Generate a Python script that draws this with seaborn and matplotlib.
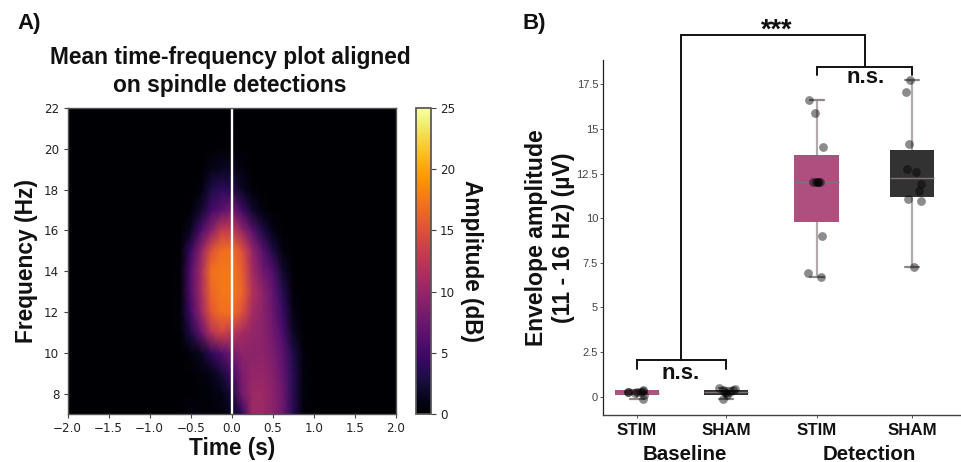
import numpy as np
import pandas as pd
import seaborn as sns
import matplotlib
matplotlib.use("Agg")
import matplotlib.pyplot as plt

# ---------- panel A data (dB) ----------
times = [-2.0, -0.75, -0.625, -0.5, -0.375, -0.25, -0.125, 0.0, 0.125, 0.25, 0.375, 0.5, 0.625, 0.75, 0.875, 1.0, 2.0]
freqs = [7, 8, 9, 10, 11, 12, 13, 14, 15, 16, 17, 18, 19, 20, 21, 22]
amp_7 = [0, 0, .3, .8, .5, .4, .4, 1.0, 4.0, 10.5, 10.5, 9.5, 7.5, 3.5, .4, 0, 0]
amp_8 = [0, 0, 0, .1, .2, .5, 1, 2.5, 8, 10.5, 10.5, 9.5, 7.5, 3.5, .5, 0, 0]
amp_9 = [0, 0, 0, .1, .5, 1, 2.5, 5, 8.5, 10, 10, 9, 7, 3.5, .5, 0, 0]
amp_10 = [0, 0, 0, .5, 1.5, 4, 6, 8, 9.5, 9.5, 9.5, 8.5, 6.5, 3, .4, 0, 0]
amp_11 = [0, 0, .3, 3, 7, 12, 14, 12.5, 11, 10, 9.5, 8, 5.5, 1.5, .1, 0, 0]
amp_12 = [0, 0, .5, 5, 10, 15.5, 17, 17, 15, 11, 9.5, 7.5, 4.5, .8, 0, 0, 0]
amp_13 = [0, 0, .4, 6, 11, 16.5, 17.5, 17.5, 16.5, 12, 9.5, 7, 3.5, .4, 0, 0, 0]
amp_14 = [0, 0, .4, 6, 11, 17, 17.5, 17.5, 16, 11, 8, 6, 2, .1, 0, 0, 0]
amp_15 = [0, 0, .3, 4.5, 9.5, 15, 17, 17, 15, 10, 6.5, 3, .6, 0, 0, 0, 0]
amp_16 = [0, 0, 0, 1.5, 5.5, 9, 13, 13, 10, 6.5, 3, .8, .1, 0, 0, 0, 0]
amp_17 = [0, 0, 0, .3, 2, 5, 6.5, 8, 5, 2, .5, .1, 0, 0, 0, 0, 0]
amp_18 = [0, 0, 0, 0, .5, 3, 4, 3.5, 1.5, .3, 0, 0, 0, 0, 0, 0, 0]
amp_19 = [0, 0, 0, 0, 0, 1, 1.5, 1.5, .7, 0, 0, 0, 0, 0, 0, 0, 0]
amp_20 = [0, 0, 0, 0, 0, .1, .2, .2, .1, 0, 0, 0, 0, 0, 0, 0, 0]
amp_21 = [0] * 17
amp_22 = [0] * 17

# ---------- panel B data ----------
group_labels = ["STIM", "SHAM", "STIM", "SHAM"]
phase_labels = ["Baseline", "Detection"]
group_pos = [0, 0.97, 1.96, 3.0]
# low whisker, q1, median, q3, high whisker
box_stats = [
    [-0.15, 0.10, 0.23, 0.36, 0.37],
    [-0.15, 0.11, 0.24, 0.37, 0.50],
    [6.72, 9.77, 12.05, 13.52, 16.6],
    [7.28, 11.2, 12.25, 13.82, 17.74],
]
base_stim = [0.27, 0.25, 0.2, 0.27, 0.27, 0.37, 0.33, -0.15, 0.1]
base_stim_off = [-0.10, -0.10, -0.02, 0.0, 0.04, 0.06, 0.07, 0.06, 0.08]
base_sham = [0.5, 0.37, 0.28, 0.19, 0.09, -0.15, 0.28, 0.37, 0.41]
base_sham_off = [-0.07, -0.03, -0.01, 0.0, 0.01, -0.03, 0.05, 0.08, 0.10]
det_stim = [16.6, 15.87, 14.0, 12.05, 12.05, 12.05, 12.0, 12.05, 9.02, 6.93, 6.72]
det_stim_off = [-0.08, -0.02, 0.07, -0.04, -0.01, 0.01, 0.04, 0.02, 0.06, -0.09, 0.05]
det_sham = [17.74, 17.05, 14.17, 12.74, 12.57, 11.93, 11.52, 11.07, 10.98, 7.28]
det_sham_off = [-0.02, -0.07, -0.03, -0.05, 0.04, 0.1, 0.08, -0.04, 0.1, 0.02]

W, H = 961, 462
def rect(l, t, r, b):
    return [l / W, 1 - b / H, (r - l) / W, (b - t) / H]

sns.set_theme(style="white")
plt.rcParams["font.family"] = ["Liberation Sans", "DejaVu Sans"]
fig = plt.figure(figsize=(W / 100, H / 100), dpi=100, facecolor="white")

# ---------- panel A ----------
ax = fig.add_axes(rect(67.5, 108, 396, 414))
Z = np.array([amp_7, amp_8, amp_9, amp_10, amp_11, amp_12, amp_13, amp_14,
              amp_15, amp_16, amp_17, amp_18, amp_19, amp_20, amp_21, amp_22])
mesh = ax.pcolormesh(times, freqs, Z, cmap="inferno", vmin=0, vmax=25, shading="gouraud", rasterized=True)
ax.axvline(0, color="white", lw=1.7)
ax.set_xlim(-2, 2)
ax.set_ylim(7, 22)
ax.set_xticks(np.arange(-2, 2.01, 0.5))
ax.set_yticks(range(8, 23, 2))
ax.tick_params(axis="both", length=3, width=0.8, color="#444444",
               labelcolor="#222222", bottom=True, left=True, pad=3)
for lab in ax.get_xticklabels() + ax.get_yticklabels():
    lab.set_fontfamily("DejaVu Sans")
    lab.set_fontsize(8.6)
for s in ax.spines.values():
    s.set_color("#555555")
    s.set_linewidth(1)
ax.set_xlabel("Time (s)", fontsize=16.3, fontweight="bold", labelpad=1.5, color="#111111")
ax.set_ylabel("Frequency (Hz)", fontsize=16.4, fontweight="bold", labelpad=4, color="#111111")

cax = fig.add_axes(rect(415.5, 108, 431, 414))
cb = fig.colorbar(mesh, cax=cax)
cb.set_ticks([0, 5, 10, 15, 20, 25])
cb.ax.tick_params(length=3.5, width=0.8, color="#444444", labelcolor="#222222", right=True, pad=3)
for lab in cb.ax.get_yticklabels():
    lab.set_fontfamily("DejaVu Sans")
    lab.set_fontsize(8.6)
cb.outline.set_edgecolor("#555555")
cb.set_label("Amplitude (dB)", rotation=270, fontsize=16.3, fontweight="bold", labelpad=20, color="#111111")

fig.text(230 / W, 1 - 71.5 / H, "Mean time-frequency plot aligned\non spindle detections", ha="center", va="center",
         fontsize=16.4, fontweight="bold", color="#111111", linespacing=1.27)
fig.text(17 / W, 1 - 23 / H, "A)", ha="left", va="center", fontsize=16, fontweight="bold", color="#111111")
fig.text(522 / W, 1 - 23 / H, "B)", ha="left", va="center", fontsize=16, fontweight="bold", color="#111111")

# ---------- panel B ----------
axb = fig.add_axes(rect(603, 60, 961, 415))
box_df = pd.DataFrame([
    {"pos": group_pos[i], "value": v, "group": i}
    for i, stats in enumerate(box_stats) for v in stats
])
sns.boxplot(data=box_df, x="pos", y="value", hue="group", native_scale=True, dodge=False, saturation=1,
            palette=["#ae4f80", "#323232", "#ae4f80", "#323232"], width=0.5, whis=(0, 100),
            showfliers=False, legend=False, linecolor="#b3aaaa", linewidth=1.6, ax=axb,
            capwidths=0.15,
            boxprops={"edgecolor": "none", "zorder": 3},
            medianprops={"color": "#7d7378", "linewidth": 1.0, "zorder": 4},
            whiskerprops={"zorder": 2}, capprops={"color": "#8f8686", "zorder": 2})

pts = []
for p, vals, offs in [(group_pos[0], base_stim, base_stim_off), (group_pos[1], base_sham, base_sham_off),
                      (group_pos[2], det_stim, det_stim_off), (group_pos[3], det_sham, det_sham_off)]:
    pts += [{"x": p + o, "y": v} for v, o in zip(vals, offs)]
sns.scatterplot(data=pd.DataFrame(pts), x="x", y="y", color="black", alpha=0.45, s=40, linewidth=0, zorder=5, ax=axb)

axb.set_xlim(-0.371, 3.535)
axb.set_ylim(-1.03, 18.86)
axb.set_yticks([0, 2.5, 5, 7.5, 10, 12.5, 15, 17.5])
axb.set_yticklabels(["0", "2.5", "5", "7.5", "10", "12.5", "15", "17.5"])
axb.set_xticks(group_pos)
axb.set_xticklabels(group_labels)
axb.tick_params(axis="y", labelsize=8, length=2, width=0.7, left=True, color="#555555", labelcolor="#444444", pad=1.5)
axb.tick_params(axis="x", labelsize=12.2, length=2, width=0.7, bottom=True, color="#555555", labelcolor="#111111", pad=4)
for lab in axb.get_xticklabels():
    lab.set_fontweight("bold")
axb.set_xlabel("")
axb.set_ylabel("Envelope amplitude\n(11 - 16 Hz) (µV)", fontsize=16.6, fontweight="bold", color="#111111",
               labelpad=1, linespacing=1.25)
sns.despine(ax=axb)
axb.spines["left"].set_color("#222222")
axb.spines["bottom"].set_color("#444444")
axb.spines["left"].set_linewidth(0.9)
axb.spines["bottom"].set_linewidth(1.0)

# significance brackets
kw = dict(color="#111111", lw=1.4, clip_on=False, solid_joinstyle="miter", zorder=6)
axb.plot([0, 0, 0.97, 0.97], [1.55, 2.06, 2.06, 1.55], **kw)
axb.plot([1.96, 1.96, 3.0, 3.0], [18.0, 18.49, 18.49, 18.0], **kw)
axb.plot([0.48, 0.48, 2.49, 2.49], [2.06, 20.28, 20.28, 18.49], **kw)
axb.text(0.48, 1.27, "n.s.", ha="center", va="center", fontsize=16, fontweight="bold", color="#111111")
axb.text(2.49, 17.9, "n.s.", ha="center", va="center", fontsize=16, fontweight="bold", color="#111111")
axb.text(1.525, 20.5, "***", ha="center", va="center", fontsize=19.5, fontweight="bold", color="#111111")
for x, t in zip([684.5, 869], phase_labels):
    fig.text(x / W, 1 - 454 / H, t, ha="center", va="center", fontsize=14.8, fontweight="bold", color="#111111")

fig.savefig("out.png", dpi=100)
